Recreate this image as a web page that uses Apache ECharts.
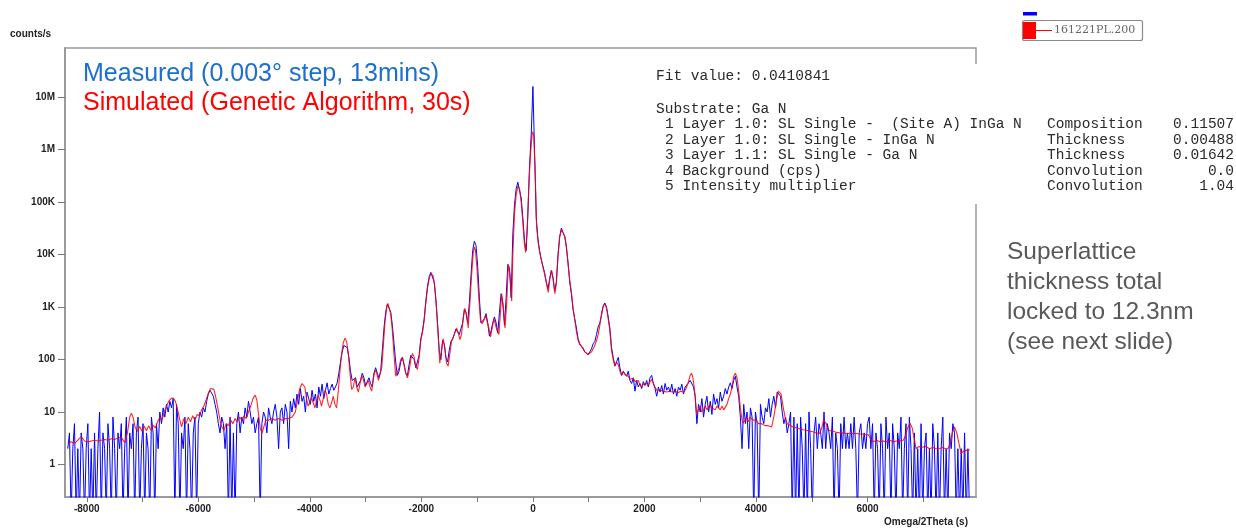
<!DOCTYPE html>
<html>
<head>
<meta charset="utf-8">
<script src="https://cdn.jsdelivr.net/npm/echarts@6/dist/echarts.min.js"></script>
<style>
  html, body { margin: 0; padding: 0; background: #fff; }
  #main { width: 1236px; height: 529px; }
</style>
</head>
<body>
<div id="main"></div>
<script>
// measured scan, one value every 30 s starting at -8340 (0.1 = zero counts, below the axis)
var measuredStart = -8340;
var measuredStep = 30;
var measuredCounts = [
  2, 4, 0.1, 2, 6, 0.1, 2, 0.1, 4, 2,
  0.1, 2, 6, 0.1, 2, 0.1, 4, 0.1, 2, 10,
  0.1, 4, 2, 0.1, 6, 2, 0.1, 8, 2, 0.1,
  4, 2, 6, 0.1, 2, 8, 0.1, 4, 2, 6,
  0.1, 4, 8, 0.1, 2, 6, 0.1, 4, 2, 0.1,
  8, 4, 0.1, 6, 2, 10, 6, 12, 8, 14,
  10, 16, 12, 18, 0.1, 14, 6, 0.1, 4, 2,
  8, 0.1, 6, 2, 0.1, 4, 8, 0.1, 6, 10,
  8, 12, 10, 16, 22, 26, 28, 20, 14, 10,
  6, 4, 8, 6, 2, 6, 0.1, 8, 0.1, 4,
  0.1, 6, 10, 4, 8, 6, 12, 8, 16, 10,
  6, 8, 4, 6, 8, 0.1, 6, 10, 8, 4,
  12, 8, 6, 10, 14, 8, 2, 10, 12, 6,
  14, 10, 2, 16, 10, 18, 12, 22, 14, 28,
  16, 20, 10, 24, 18, 14, 26, 16, 22, 12,
  30, 20, 34, 18, 26, 36, 22, 28, 34, 26,
  30, 36, 55, 90, 140, 185, 190, 170, 110, 60,
  40, 38, 45, 30, 28, 40, 55, 45, 32, 30,
  45, 35, 30, 55, 70, 55, 45, 60, 150, 400,
  800, 1150, 1100, 800, 450, 200, 90, 50, 60, 90,
  110, 80, 55, 50, 80, 120, 130, 100, 70, 75,
  120, 250, 350, 600, 1300, 2500, 3800, 4600, 4400, 3000,
  1400, 500, 150, 100, 230, 200, 110, 90, 150, 220,
  250, 300, 380, 400, 300, 280, 500, 900, 800, 500,
  1200, 4000, 12000, 18000, 15000, 6000, 1500, 500, 480, 600,
  750, 500, 280, 350, 500, 650, 500, 320, 800, 1800,
  1200, 450, 1500, 6500, 5500, 1500, 25000, 90000, 180000, 240000,
  220000, 120000, 50000, 18000, 12000, 60000, 500000, 2000000, 16000000, 900000,
  50000, 20000, 12000, 8000, 6000, 4500, 3000, 2200, 3500, 5000,
  3500, 2000, 3000, 10000, 22000, 32000, 30000, 22000, 14000, 7000,
  3000, 1800, 900, 600, 400, 250, 200, 180, 170, 140,
  130, 125, 140, 160, 200, 220, 300, 420, 500, 700,
  1050, 1200, 1000, 650, 400, 170, 110, 75, 90, 110,
  70, 50, 60, 55, 48, 60, 40, 35, 45, 25,
  40, 30, 35, 28, 38, 32, 40, 30, 45, 50,
  35, 28, 20, 30, 24, 32, 22, 35, 26, 30,
  24, 34, 22, 28, 20, 30, 26, 34, 22, 30,
  28, 36, 40, 38, 30, 20, 6, 14, 10, 18,
  8, 14, 20, 10, 16, 9, 22, 14, 18, 12,
  24, 16, 20, 28, 22, 30, 36, 28, 40, 48,
  30, 20, 8, 2, 14, 6, 10, 2, 12, 8,
  0.1, 10, 6, 0.1, 14, 8, 6, 12, 10, 18,
  8, 14, 20, 12, 24, 26, 20, 10, 6, 8,
  4, 6, 10, 0.1, 8, 0.1, 6, 0.1, 8, 2,
  0.1, 6, 0.1, 10, 2, 0.1, 4, 8, 2, 6,
  4, 2, 10, 2, 6, 4, 2, 8, 0.1, 4,
  2, 0.1, 6, 2, 8, 2, 4, 2, 6, 2,
  8, 2, 0.1, 4, 6, 2, 4, 2, 6, 8,
  2, 6, 0.1, 4, 2, 0.1, 6, 2, 0.1, 8,
  2, 4, 0.1, 6, 2, 0.1, 4, 2, 8, 0.1,
  2, 6, 0.1, 8, 2, 0.1, 4, 0.1, 2, 0.1,
  6, 0.1, 2, 4, 0.1, 2, 0.1, 6, 2, 0.1,
  4, 0.1, 2, 8, 0.1, 2, 0.1, 4, 2, 6,
  4, 0.1, 2, 0.1, 2, 0.1, 4, 0.1, 2, 0.1
];

// simulated curve [omega/2theta (s), counts/s]
var simulated = [
  [-8340,2.6],[-8280,2.7],[-8220,2.5],[-8160,2.9],[-8100,3.4],[-8040,2.8],[-7980,2.7],[-7920,2.8],
  [-7860,2.9],[-7800,2.8],[-7740,2.9],[-7680,3.0],[-7620,2.9],[-7560,3.1],[-7500,3.0],[-7440,3.2],
  [-7380,3.3],[-7320,2.6],[-7270,4],[-7230,8],[-7200,9.5],[-7170,8],[-7130,5],[-7090,4.3],
  [-7050,5.3],[-7010,4.3],[-6970,5.4],[-6930,4.4],[-6890,5.5],[-6850,4.5],[-6810,5.6],[-6770,5],
  [-6730,6.5],[-6690,8],[-6650,7],[-6610,10],[-6570,13],[-6530,16],[-6490,18],[-6450,18.5],
  [-6410,16],[-6370,11],[-6330,7],[-6300,5.2],[-6260,7.5],[-6220,6],[-6180,8],[-6140,6.5],
  [-6100,8.5],[-6060,7],[-6020,9],[-5980,8.5],[-5940,11],[-5900,13],[-5860,17],[-5820,23],
  [-5780,28],[-5750,30],[-5720,27],[-5690,20],[-5650,12],[-5610,7],[-5580,5.2],[-5540,4.5],
  [-5500,6],[-5460,5.5],[-5420,7],[-5380,6],[-5340,7.5],[-5300,6.5],[-5260,8],[-5220,7],
  [-5180,8.5],[-5140,7.5],[-5100,10],[-5060,13],[-5020,18],[-4980,21],[-4950,17],[-4920,9],
  [-4890,5],[-4860,3.9],[-4830,5],[-4790,7],[-4740,7],[-4680,7.5],[-4620,7],[-4560,7.5],
  [-4500,7],[-4440,7.5],[-4380,7.5],[-4320,8],[-4260,10],[-4220,17],[-4180,28],[-4140,35],
  [-4120,37],[-4090,30],[-4060,18],[-4030,13],[-4000,15],[-3970,19],[-3940,15],[-3910,12],
  [-3880,16],[-3850,21],[-3820,17],[-3790,13],[-3760,18],[-3730,26],[-3700,22],[-3670,14],
  [-3640,12],[-3610,15],[-3580,20],[-3550,14],[-3520,12],[-3490,25],[-3460,60],[-3430,130],
  [-3400,210],[-3370,255],[-3340,220],[-3310,130],[-3280,55],[-3250,27],[-3220,30],[-3190,45],
  [-3160,30],[-3130,24],[-3100,35],[-3070,50],[-3040,42],[-3010,30],[-2980,32],[-2950,40],
  [-2920,30],[-2890,25],[-2860,45],[-2830,63],[-2800,55],[-2770,40],[-2740,42],[-2710,70],
  [-2680,200],[-2650,550],[-2620,1000],[-2600,1180],[-2580,1100],[-2550,750],[-2520,350],[-2490,120],
  [-2460,48],[-2430,45],[-2400,70],[-2370,100],[-2340,110],[-2310,80],[-2280,55],[-2250,45],
  [-2220,60],[-2190,100],[-2160,130],[-2130,110],[-2100,75],[-2070,65],[-2040,110],[-2010,230],
  [-1980,330],[-1950,550],[-1920,1200],[-1890,2300],[-1860,3500],[-1830,4300],[-1810,4400],[-1790,4000],
  [-1760,2500],[-1730,1000],[-1700,300],[-1670,85],[-1640,150],[-1610,250],[-1580,170],[-1550,85],
  [-1520,75],[-1490,130],[-1460,220],[-1430,260],[-1400,330],[-1370,400],[-1340,330],[-1310,240],
  [-1280,300],[-1250,600],[-1220,950],[-1190,700],[-1160,400],[-1130,1200],[-1100,4000],[-1070,11000],
  [-1050,14000],[-1030,12000],[-1000,5000],[-970,1500],[-940,550],[-910,480],[-880,560],[-850,700],
  [-820,650],[-790,400],[-760,270],[-730,400],[-700,600],[-670,550],[-640,350],[-610,300],
  [-590,600],[-560,1800],[-530,1000],[-500,400],[-470,1200],[-440,6500],[-410,4000],[-380,1300],
  [-360,10000],[-330,60000],[-300,140000],[-270,200000],[-240,180000],[-210,100000],[-180,40000],[-150,15000],
  [-130,11000],[-100,35000],[-70,250000],[-40,900000],[-15,2000000],[0,2200000],[15,1800000],[40,400000],
  [66,34000],[100,15000],[130,10000],[156,7500],[185,5500],[215,4000],[245,2800],[274,1900],
  [305,3500],[335,5000],[365,3500],[394,1800],[420,2800],[450,9000],[480,22000],[514,30000],
  [545,28000],[575,22000],[604,13000],[635,6000],[665,3000],[693,1800],[723,900],[753,550],
  [783,330],[812,230],[842,190],[872,175],[902,165],[932,140],[962,130],[991,125],
  [1020,130],[1050,140],[1080,160],[1111,190],[1140,230],[1170,300],[1200,450],[1230,750],
  [1260,1050],[1290,1150],[1320,950],[1350,600],[1380,350],[1410,150],[1440,100],[1470,75],
  [1500,90],[1530,80],[1560,60],[1590,50],[1620,58],[1650,52],[1680,55],[1710,48],
  [1740,42],[1770,40],[1800,44],[1830,38],[1860,38],[1890,40],[1920,33],[1950,30],
  [1980,34],[2010,36],[2040,35],[2070,32],[2100,38],[2130,42],[2160,35],[2190,30],
  [2220,26],[2250,28],[2280,26],[2310,27],[2340,25],[2370,26],[2400,24],[2450,25],
  [2500,24],[2550,25],[2600,23],[2650,25],[2700,24],[2740,27],[2780,35],[2820,50],
  [2845,55],[2870,45],[2900,25],[2935,9.4],[2970,11],[3000,13],[3030,10],[3060,11],
  [3090,13],[3120,11],[3150,12],[3180,14],[3210,12],[3240,13],[3270,11],[3300,13],
  [3330,12],[3360,11],[3390,13],[3420,11],[3450,12],[3480,14],[3510,18],[3540,22],
  [3570,30],[3600,48],[3630,55],[3660,45],[3690,25],[3720,12],[3750,7],[3770,6.1],
  [3800,7],[3830,8],[3860,6.5],[3890,8],[3920,7.5],[3950,7],[3980,6.5],[4010,7],
  [4040,6],[4070,6.5],[4100,6],[4130,6.1],[4160,5.5],[4190,6],[4220,5.5],[4250,5.5],
  [4280,5.2],[4320,8],[4360,15],[4400,25],[4420,26],[4450,22],[4490,12],[4520,8.1],
  [4560,6],[4610,5.6],[4660,5.2],[4720,5],[4780,4.8],[4840,4.6],[4900,4.5],[4960,4.3],
  [5020,4.2],[5080,4],[5140,3.9],[5180,5],[5210,7],[5230,7.5],[5260,6],[5290,4.5],
  [5320,4.5],[5380,4.3],[5440,4.1],[5500,4],[5560,4],[5620,3.9],[5680,3.9],[5740,3.9],
  [5800,3.9],[5860,3.8],[5920,3.8],[5970,3.7],[6010,3.7],[6050,3.2],[6100,2.7],[6160,2.9],
  [6220,2.7],[6280,2.8],[6340,2.7],[6400,2.9],[6460,2.7],[6520,2.8],[6580,2.8],[6640,2.9],
  [6680,3.5],[6720,5],[6760,6.1],[6800,5],[6840,3],[6870,2.0],[6920,2.2],[6960,2.1],
  [6990,2.1],[7050,2.2],[7110,2.0],[7170,2.1],[7230,2.0],[7290,2.0],[7350,2.1],[7400,2.0],
  [7440,2.0],[7480,2.5],[7520,4],[7560,5.2],[7600,4],[7640,2.5],[7680,1.6],[7720,1.8],
  [7740,1.9],[7800,1.9],[7830,1.9]
];

// axis ticks
var xTickValues = [-8000, -7000, -6000, -5000, -4000, -3000, -2000, -1000, 0, 1000, 2000, 3000, 4000, 5000, 6000, 7000];
var xLabelValues = [-8000, -6000, -4000, -2000, 0, 2000, 4000, 6000];
var yTickValues = [1, 10, 100, 1000, 10000, 100000, 1000000, 10000000];
var yTickLabels = ['1', '10', '100', '1K', '10K', '100K', '1M', '10M'];

var fitLines = [
  'Fit value: 0.0410841',
  'Substrate: Ga N',
  '1 Layer 1.0: SL Single -  (Site A) InGa N',
  '2 Layer 1.0: SL Single - InGa N',
  '3 Layer 1.1: SL Single - Ga N',
  '4 Background (cps)',
  '5 Intensity multiplier'
];
var fitParams = ['Composition', 'Thickness', 'Thickness', 'Convolution', 'Convolution'];
var fitValues = ['0.11507', '0.00488', '0.01642', '0.0', '1.04'];
var noteLines = ['Superlattice', 'thickness total', 'locked to 12.3nm', '(see next slide)'];

var measured = measuredCounts.map(function (v, i) {
  return [measuredStart + i * measuredStep, v];
});

var myChart = echarts.init(document.getElementById('main'), null, {renderer: 'canvas'});

var monoFont = '14.5px "Liberation Mono", "Courier New", monospace';
var gfx = [];
// white panel for the fit report
gfx.push({type: 'rect', shape: {x: 648, y: 64, width: 592, height: 140}, style: {fill: '#fff'}, z: 100});
var fitY = [76, 109, 124.5, 140, 155.5, 171, 186.5];
fitLines.forEach(function (t, i) {
  gfx.push({type: 'text', x: i < 2 ? 656 : 665, y: fitY[i], z: 101,
    style: {text: t, font: monoFont, fill: '#2a2a2a', verticalAlign: 'middle'}});
});
fitParams.forEach(function (t, i) {
  gfx.push({type: 'text', x: 1047, y: fitY[i + 2], z: 101,
    style: {text: t, font: monoFont, fill: '#2a2a2a', verticalAlign: 'middle'}});
  gfx.push({type: 'text', x: 1234, y: fitY[i + 2], z: 101,
    style: {text: fitValues[i], font: monoFont, fill: '#2a2a2a', align: 'right', verticalAlign: 'middle'}});
});
// headline labels
gfx.push({type: 'text', x: 83, y: 74, z: 101,
  style: {text: 'Measured (0.003\u00b0 step, 13mins)', font: '25px Arial, "Liberation Sans"', fill: '#1a6fcf', verticalAlign: 'middle'}});
gfx.push({type: 'text', x: 83, y: 103, z: 101,
  style: {text: 'Simulated (Genetic Algorithm, 30s)', font: '25px Arial, "Liberation Sans"', fill: '#ff0000', verticalAlign: 'middle'}});
// side note
noteLines.forEach(function (t, i) {
  gfx.push({type: 'text', x: 1007, y: 252 + i * 30, z: 101,
    style: {text: t, font: '24.5px Arial, "Liberation Sans"', fill: '#595959', verticalAlign: 'middle'}});
});
// axis titles
gfx.push({type: 'text', x: 10, y: 34, z: 101,
  style: {text: 'counts/s', font: 'bold 10px Arial, "Liberation Sans"', fill: '#222', verticalAlign: 'middle'}});
gfx.push({type: 'text', x: 968, y: 522, z: 101,
  style: {text: 'Omega/2Theta (s)', font: 'bold 10px Arial, "Liberation Sans"', fill: '#222', align: 'right', verticalAlign: 'middle'}});
// file legend
gfx.push({type: 'rect', shape: {x: 1023, y: 12, width: 14, height: 3.5}, style: {fill: '#0000ff'}, z: 101});
gfx.push({type: 'rect', shape: {x: 1022.5, y: 20.5, width: 120, height: 20, r: 2}, style: {fill: '#fff', stroke: '#8a8a8a', lineWidth: 1.2}, z: 101});
gfx.push({type: 'rect', shape: {x: 1023, y: 22, width: 13, height: 17}, style: {fill: '#ff0000'}, z: 102});
gfx.push({type: 'line', shape: {x1: 1036, y1: 30.5, x2: 1052, y2: 30.5}, style: {stroke: '#ff0000', lineWidth: 1}, z: 102});
gfx.push({type: 'text', x: 1054, y: 30.5, z: 102,
  style: {text: '161221PL.200', font: '11px "DejaVu Serif", serif', fill: '#666', verticalAlign: 'middle'}});

option = {
    animation: false,
    backgroundColor: '#fff',
    grid: {
        left: 65,
        right: 260,
        top: 48,
        bottom: 32,
        show: true,
        borderColor: '#9a9a9a',
        borderWidth: 1.5
    },
    xAxis: {
        type: 'value',
        min: -8390,
        max: 7945,
        axisLine: {show: true, onZero: false, lineStyle: {color: '#9a9a9a', width: 2}},
        axisTick: {show: true, length: 5, customValues: xTickValues, lineStyle: {color: '#777'}},
        splitLine: {show: false},
        axisLabel: {color: '#222', fontWeight: 'bold', fontSize: 10, fontFamily: 'Arial', margin: 7,
            customValues: xLabelValues,
            formatter: function (v) { return String(v); }}
    },
    yAxis: {
        type: 'log',
        logBase: 10,
        min: 0.24,
        max: 8.7e7,
        axisLine: {show: true, onZero: false, lineStyle: {color: '#9a9a9a', width: 2}},
        axisTick: {show: true, length: 7, customValues: yTickValues, lineStyle: {color: '#777'}},
        splitLine: {show: false},
        axisLabel: {
            color: '#222', fontWeight: 'bold', fontSize: 10, fontFamily: 'Arial', margin: 10,
            customValues: yTickValues,
            formatter: function (v) {
                var i = yTickValues.indexOf(v);
                if (i < 0) i = Math.round(Math.log10(v));
                return yTickLabels[i] || '';
            }
        }
    },
    series: [
        {
            name: 'Measured',
            type: 'line',
            data: measured,
            showSymbol: false,
            lineStyle: {color: '#0000ff', width: 1},
            z: 2
        },
        {
            name: 'Simulated',
            type: 'line',
            data: simulated,
            showSymbol: false,
            lineStyle: {color: '#ff0000', width: 1.1, opacity: 0.85},
            z: 3
        }
    ],
    graphic: gfx
};

myChart.setOption(option);
</script>
</body>
</html>
